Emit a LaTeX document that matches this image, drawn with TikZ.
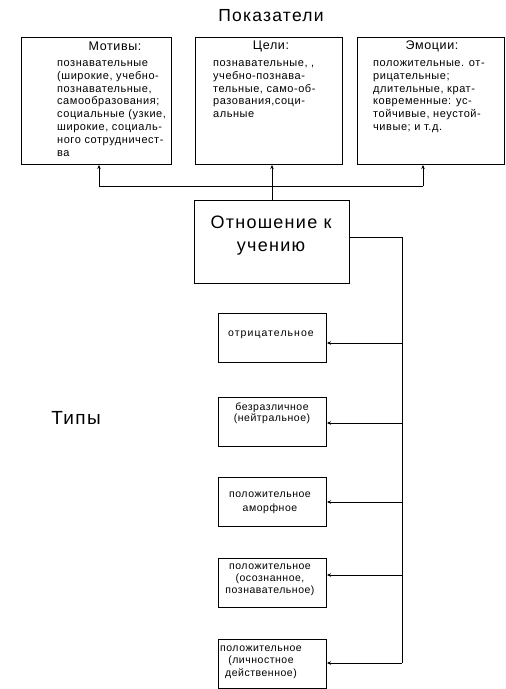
\documentclass[tikz,border=0pt]{standalone}
\usepackage{fontspec}
\setmainfont{Liberation Sans}
\newfontfamily\smallfam[LetterSpace=5]{Liberation Sans}
\newfontfamily\widefam[LetterSpace=10]{Liberation Sans}
\newfontfamily\bigfam[LetterSpace=7]{Liberation Sans}
\usetikzlibrary{arrows.meta}
\newcommand\txtsmall{\smallfam\fontsize{11}{12.9}\selectfont}
\begin{document}
\begin{tikzpicture}[x=1pt,y=-1pt,
  box/.style={draw,line width=1pt,inner sep=0pt,anchor=north west},
  head/.style={inner sep=0pt,font=\smallfam\fontsize{12.5}{12.5}\selectfont},
  body/.style={inner sep=0pt,anchor=north west,align=left,font=\txtsmall},
  typ/.style={inner sep=0pt,align=center},
  conn/.style={line width=0.9pt},
  arr/.style={conn,-{Stealth[length=4pt,width=3.5pt]}}]
\useasboundingbox (0,0) rectangle (506,689);

% title
\node[inner sep=0pt,font=\bigfam\fontsize{17.5}{17.5}\selectfont] (title) at (271,16) {Показатели};

% indicator boxes
\node[box,minimum width=150pt,minimum height=127pt] (m) at (21,37) {};
\node[box,minimum width=147pt,minimum height=127pt] (c) at (195,37) {};
\node[box,minimum width=147pt,minimum height=127pt] (e) at (357,37) {};

\node[head] (mh) at (115,46) {Мотивы:};
\node[body] (mb) at (57,57) {\strut познавательные\\(широкие, учебно-\\познавательные,\\самообразования;\\социальные (узкие,\\широкие, социаль-\\ного сотрудничест-\\ва};

\node[head] (ch) at (271,46) {Цели:};
\node[body] (cb) at (213,57) {\strut познавательные, ,\\учебно-познава-\\тельные, само-об-\\разования,соци-\\альные};

\node[head] (eh) at (432,46) {Эмоции:};
\node[body] (eb) at (373,57) {\strut положительные. от-\\рицательные;\\длительные, крат-\\ковременные: ус-\\тойчивые, неустой-\\чивые; и т.д.};

% central box
\node[box,minimum width=155pt,minimum height=83pt] (o) at (194,200) {};
\node[inner sep=0pt,align=center,font=\bigfam\fontsize{18}{23}\selectfont] (ot) at (271,236) {Отношение к\\учению};

% types label
\node[inner sep=0pt,font=\bigfam\fontsize{19}{19}\selectfont] (tp) at (76,418) {Типы};

% type boxes
\node[box,minimum width=108pt,minimum height=49pt] (b1) at (218,313) {};
\node[box,minimum width=108pt,minimum height=49pt] (b2) at (218,397) {};
\node[box,minimum width=108pt,minimum height=49pt] (b3) at (218,477) {};
\node[box,minimum width=108pt,minimum height=49pt] (b4) at (218,558) {};
\node[box,minimum width=108pt,minimum height=49pt] (b5) at (218,639) {};

\node[typ,font=\widefam\fontsize{10.5}{11.5}\selectfont] (t1) at (271,335) {отрицательное};
\node[typ,font=\smallfam\fontsize{10.5}{11}\selectfont] (t2) at (272,413) {безразличное\\(нейтральное)};
\node[typ,font=\smallfam\fontsize{10.5}{14}\selectfont] (t3) at (270,503) {положительное\\аморфное};
\node[typ,font=\smallfam\fontsize{10.5}{12}\selectfont] (t4) at (270,580) {положительное\\(осознанное,\\познавательное)};
\node[typ,font=\smallfam\fontsize{10.5}{12.5}\selectfont] (t5) at (261,662) {положительное\\(личностное\\действенное)};

% connectors to indicators
\coordinate (j1) at (99,186);
\coordinate (j3) at (423,186);
\draw[conn] (j1) -- (j3);
\draw[arr] (j1) -- (j1 |- m.south);
\draw[arr] (j3) -- (j3 |- e.south);
\draw[arr] (o.north) -- (o.north |- c.south);

% connectors to types
\coordinate (r) at (402,237);
\coordinate (rb) at (402,663);
\draw[conn] (r -| o.east) -- (r) -- (rb);
\coordinate (k1) at (402,343);
\coordinate (k2) at (402,423);
\coordinate (k3) at (402,502);
\coordinate (k4) at (402,575);
\draw[arr] (k1) -- (k1 -| b1.east);
\draw[arr] (k2) -- (k2 -| b2.east);
\draw[arr] (k3) -- (k3 -| b3.east);
\draw[arr] (k4) -- (k4 -| b4.east);
\draw[arr] (rb) -- (rb -| b5.east);
\end{tikzpicture}
\end{document}
